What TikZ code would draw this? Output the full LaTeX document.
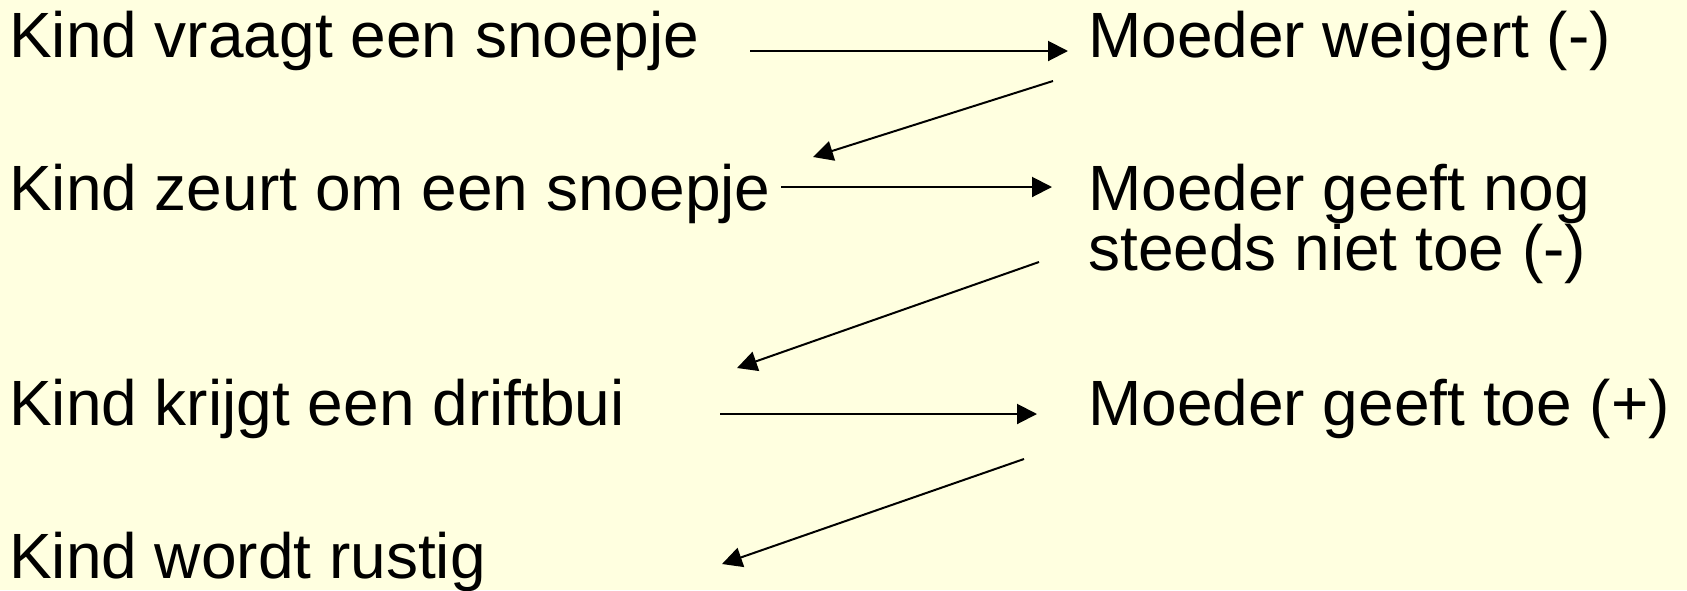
\documentclass[tikz,border=0pt]{standalone}
\usepackage{fontspec}
\setmainfont{Liberation Sans}
\usetikzlibrary{arrows.meta}
\definecolor{bg}{RGB}{255,255,224}
\begin{document}
\begin{tikzpicture}[x=1pt,y=-1pt,
  lbl/.style={anchor=base west, inner sep=0pt, font=\fontsize{64}{60}\selectfont, align=left},
  arr/.style={line width=2pt, -{Triangle[length=20pt,width=20pt]}}]
\fill[bg] (0,0) rectangle (1687,590);
\useasboundingbox (0,0) rectangle (1687,590);
\node[lbl] (k1) at (9,57) {Kind vraagt een snoepje};
\node[lbl] (k2) at (9,210) {Kind zeurt om een snoepje};
\node[lbl] (k3) at (9,425) {Kind krijgt een driftbui};
\node[lbl] (k4) at (9,578) {Kind wordt rustig};
\node[lbl] (m1) at (1088,57) {Moeder weigert (-)};
\node[lbl] (m2) at (1088,270) {Moeder geeft nog\\steeds niet toe (-)};
\node[lbl] (m3) at (1088,425) {Moeder geeft toe (+)};
\coordinate (a1s) at (750,51);  \coordinate (a1e) at (1068,51);
\coordinate (a2s) at (1053,81); \coordinate (a2e) at (813,157);
\coordinate (a3s) at (781,187); \coordinate (a3e) at (1052,187);
\coordinate (a4s) at (1039,262); \coordinate (a4e) at (737,368);
\coordinate (a5s) at (720,414); \coordinate (a5e) at (1037,414);
\coordinate (a6s) at (1024,459); \coordinate (a6e) at (722,564);
\draw[arr] (a1s) -- (a1e);
\draw[arr] (a2s) -- (a2e);
\draw[arr] (a3s) -- (a3e);
\draw[arr] (a4s) -- (a4e);
\draw[arr] (a5s) -- (a5e);
\draw[arr] (a6s) -- (a6e);
\end{tikzpicture}
\end{document}
